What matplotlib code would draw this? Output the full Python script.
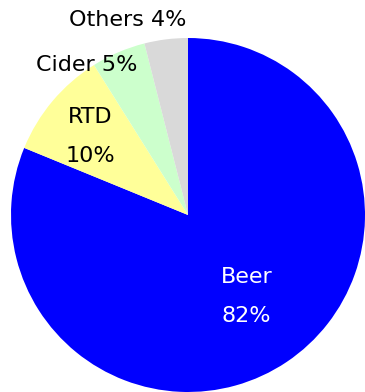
import matplotlib
matplotlib.use("Agg")
import matplotlib.pyplot as plt

categories = ["Beer", "RTD", "Cider", "Others"]
shares = [82, 10, 5, 4]
label_texts = ["Beer\n82%", "RTD\n10%", "Cider 5%", "Others 4%"]

colors = ["#0000FF", "#FFFF99", "#CCFFCC", "#D9D9D9"]
text_colors = ["white", "black", "black", "black"]
# label centres in units of pie radius (layout only)
label_pos = [(0.33, -0.46), (-0.55, 0.445), (-0.57, 0.85), (-0.34, 1.10)]

W, H = 365, 392
fig = plt.figure(figsize=(W / 100, H / 100), dpi=100)
cx, cy, r = 188, 215, 177
ax = fig.add_axes([(cx - r) / W, (H - cy - r) / H, 2 * r / W, 2 * r / H])
ax.pie(shares, colors=colors, startangle=90, counterclock=False,
       wedgeprops=dict(linewidth=0))
ax.set_xlim(-1, 1)
ax.set_ylim(-1, 1)
ax.set_aspect("equal")
ax.axis("off")
for txt, (x, y), c in zip(label_texts, label_pos, text_colors):
    ax.text(x, y, txt, ha="center", va="center", color=c, fontsize=16,
            family="DejaVu Sans", linespacing=2.2, clip_on=False)

fig.savefig("out.png", dpi=100)
